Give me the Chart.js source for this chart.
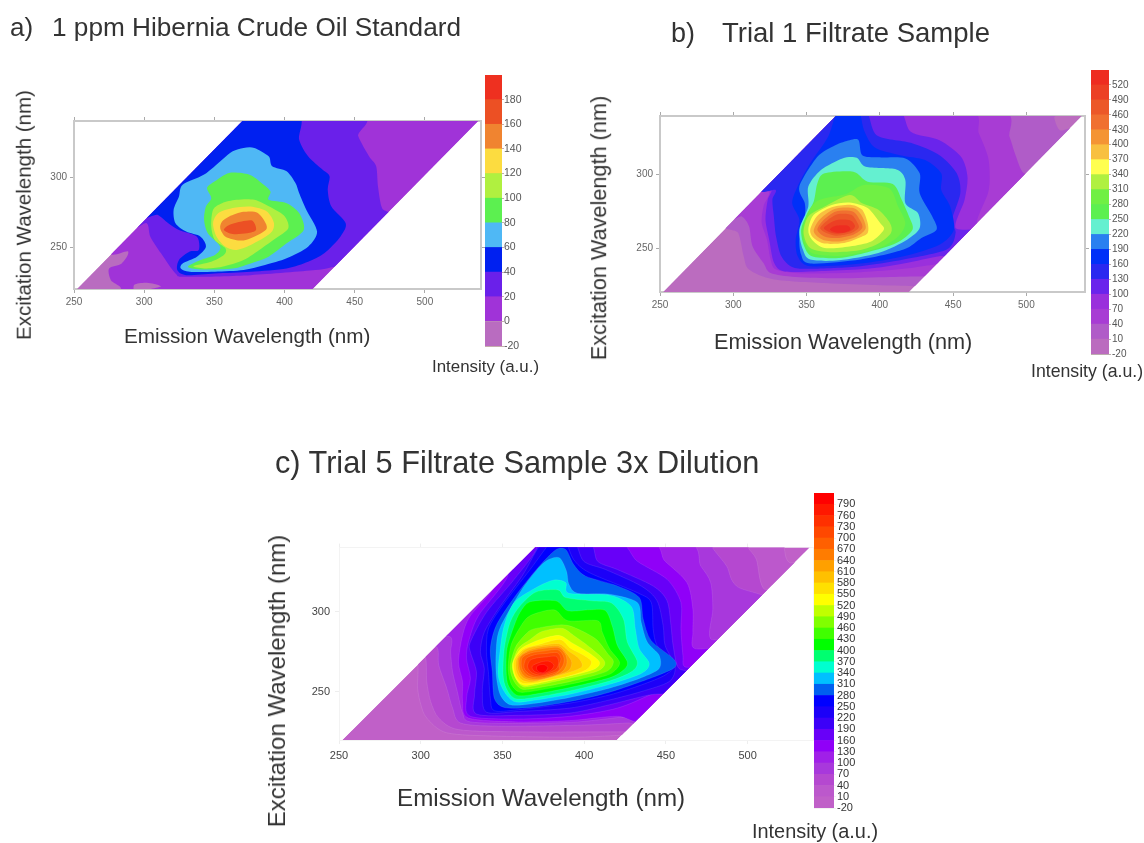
<!DOCTYPE html>
<html><head><meta charset="utf-8">
<script src="https://cdn.jsdelivr.net/npm/chart.js@4"></script>
<style>
html,body{margin:0;padding:0;background:#fff;width:1144px;height:843px;overflow:hidden}
#page{position:relative;width:1144px;height:843px;filter:blur(.5px)}
canvas{position:absolute;display:block}
.t{position:absolute;font-family:"Liberation Sans",Arial,sans-serif;color:#333;white-space:nowrap;line-height:1;transform:translateY(-50%)}
.v{position:absolute;font-family:"Liberation Sans",Arial,sans-serif;color:#333;white-space:nowrap;line-height:1;transform:translate(-50%,-50%) rotate(-90deg)}
</style></head><body><div id="page"></div>
<script>
// ---- axes
const xTicks=[250,300,350,400,450,500];
const yTicks=[250,300];
const emRange=[250,540];
const exRange=[220,340];
const scanArea=[[252,220],[420,220],[538,340],[370,340]];

// ---- panel a: levels and colours
const aLevels=[-20,0,20,40,60,80,100,120,140,160,180,200];
const aColors=['#b96cc0','#a033d8','#6a20ea','#0020f0','#4fb8f5','#5cf050','#b0f040','#fcdc40','#f08430','#ec5024','#ee3020'];
const a0=[[278,252],[288.6,246.7],[284,238.3],[275,234.7],[276.3,226.3],[283,221.5],[284,216],[292,216],[293,223],[302,224.5],[312,222],[314,216],[570,216],[570,350],[350,350]];
const a20=[[449,345],[452.5,329.2],[460.2,314.8],[465.3,307.7],[466.6,293.3],[469.1,278.9],[473,275.4],[490,270],[445,236],[435.9,235.9],[421.9,233.5],[375.9,229.9],[329.9,228.7],[322.3,231.1],[312,245.5],[304.4,257.4],[301.8,267],[290,268],[300,345]];
const a40=[[409,345],[410.4,326.8],[416.8,314.8],[427,305.3],[432.1,300.5],[430.8,290.9],[433.4,278.9],[443.6,267],[439.8,257.4],[428.3,245.5],[416.8,239.5],[401.5,234.7],[375.9,232.3],[350.4,231.1],[329.9,229.9],[323.6,233.5],[324.8,240.7],[332.5,246.7],[338.9,247.9],[337.6,257.4],[324.8,262.2],[317.2,267],[309.5,273],[300,275],[360,345]];
const a60=[[370.8,320.8],[378.5,320.8],[388.7,314.8],[391.2,307.7],[401.5,304.1],[407.8,295.7],[410.4,288.5],[415.5,276.6],[423.2,261],[416.8,250.2],[401.5,241.9],[386.1,237.1],[370.8,233.5],[350.4,232.3],[332.5,232.3],[326.1,234.7],[327.4,238.3],[337.6,243.1],[344,250.2],[340.2,257.4],[329.9,261],[322.3,267],[321,276.6],[324.8,286.1],[327.4,294.5],[342.7,301.7],[355.5,312.4],[363.1,318.4]];
const a80=[[360.6,302.9],[374.6,301.7],[383.6,295.7],[390,289.7],[388.7,283.7],[401.5,281.3],[410.4,274.2],[413.7,262.2],[401.5,252.6],[388.7,243.1],[375.9,238.3],[363.1,234.7],[340.2,234],[331.2,235.9],[340.2,240.7],[350.4,244.3],[354.2,250.2],[345.3,259.8],[342.7,269.4],[344,278.9],[347.8,284.9],[344.8,292.1],[350.4,296.9]];
const a100=[[365.7,283.7],[378.5,283.7],[391.2,277.8],[400.2,271.8],[402.7,263.4],[393.8,256.2],[383.6,249],[370.8,240.7],[355.5,235.9],[342.7,234.7],[335,236.4],[347.8,239.5],[356.8,244.3],[358,249],[350.4,255],[347.8,264.6],[349.1,276.6],[355.5,281.3]];
const a120=[[363.1,277.8],[375.9,278.9],[387.4,275.4],[392.5,267],[389.9,259.8],[375.9,251.4],[365.7,247.9],[358,250.2],[351.6,257.4],[349.1,267],[352.9,274.2]];
const a140=[[360.6,271.8],[370.8,275.1],[381,274.2],[387.4,263.4],[375.9,256.2],[368.2,254.6],[358,257.4],[354.2,263.4],[355.5,268.2]];
const a160=[[360.6,265.8],[369.5,268.2],[377.2,268.7],[379.7,262.2],[373.3,259.8],[363.1,259.3],[356.8,262.2]];
const aContours=[a0,a20,a40,a60,a80,a100,a120,a140,a160];

// ---- panel b: levels and colours
const bLevels=[-20,10,40,70,100,130,160,190,220,250,280,310,340,370,400,430,460,490,520,550];
const bColors=['#bb6cbf','#b05cc8','#a83cd4','#9a30dc','#6a24ec','#2a28f0','#0030f8','#2a80f0','#64f0d0','#5cf050','#70f044','#b0f040','#ffff50','#f8c040','#f49434','#f07030','#ec5828','#ec4024','#ee2c20'];
const b10=[[295,272],[303.4,260.2],[307.1,244.4],[310.8,235.3],[327.9,228.5],[367.2,225.8],[403.9,224.5],[428.4,224],[440,224],[535,326],[522.8,330.3],[519,339],[519,345],[360,345]];
const b40=[[480,345],[488.5,325.8],[492.2,314.5],[498.3,300.9],[510,300],[440,231],[432.1,230.8],[406.4,230.3],[372.1,229.4],[342.6,230.3],[325.5,233],[320.6,239.8],[313.2,251.1],[310.8,264.7],[305.9,271.5],[298,272],[370,345]];
const b70=[[459,345],[467.6,328],[473.8,312.2],[475,298.6],[473.8,287.3],[466.4,267],[480,267],[450,238],[445.6,239.8],[416.2,235.8],[386.8,233.5],[347.5,232.6],[329.2,235.3],[325.5,242.1],[323,255.7],[319.4,267],[320.6,278.3],[324.3,288.5],[310,290],[370,345]];
const b100=[[412,345],[421.1,329.2],[440.7,323.5],[455.4,312.2],[459.8,298.6],[457.8,282.8],[451.7,263.6],[470,262],[450,244],[440.7,244.4],[416.2,239.4],[391.7,235.8],[362.3,234.4],[335.3,234],[327.9,239.8],[324.5,255.7],[322,269.2],[323.5,282.8],[326,289.6],[318,292],[378,345]];
const b130=[[390,345],[397.8,326.9],[421.1,321.7],[440.7,313.3],[452.5,300.9],[454.9,287.3],[449.3,269.2],[451.7,260.2],[445.6,248.9],[416.2,242.1],[386.8,237.6],[352.5,235.8],[340.2,237.1],[332.8,244.4],[329.2,257.9],[327.7,271.5],[326.7,282.8],[329,289.6],[320,292],[372,345]];
const b160=[[385,345],[389.2,330.3],[396.6,318.5],[413.7,313.3],[430.9,310],[441.9,300.9],[441.9,289.6],[448,278.3],[450.5,262.5],[440.7,252.3],[416.2,244.4],[386.8,239.4],[352.5,237.6],[344,244.4],[342.6,255.7],[345.1,269.2],[340.2,280.5],[343.9,291.9],[352.5,307.7],[364.7,325.8],[372,345]];
const b190=[[379.4,323.5],[385.5,323.5],[388,313.3],[399,311.8],[417.4,311.1],[427.2,300.9],[427.2,287.3],[435.8,271.5],[438.7,262.5],[428.4,256.8],[416.2,248.9],[386.8,242.1],[352.5,239.4],[346.3,245.5],[345.1,257.9],[348.8,271.5],[348.8,280.5],[345.1,291.9],[357.4,312.2],[369.6,320.1]];
const b220=[[374.5,311.1],[384.3,311.5],[390.4,305.4],[411.3,303.6],[417.4,296.4],[417.4,280.5],[426,273.8],[427.2,263.6],[418.6,255.7],[399,246.6],[372.1,241.6],[352.5,242.1],[347.5,248.9],[345.1,262.5],[351.2,278.3],[351.2,291.9],[359.8,303.2]];
const b250=[[362.3,300.9],[381.9,302],[391.7,295.2],[408.8,293.7],[415,282.8],[419.9,271.5],[422.3,262.5],[411.3,253.4],[391.7,247.1],[372.1,243.2],[353.7,244.4],[348,252.3],[346.3,262.5],[349.5,271.5],[354.9,281.7],[357.4,294.1]];
const b280=[[358.6,282.8],[377,286.9],[389.2,293],[406.4,290.7],[412.5,278.3],[417.4,267],[412.5,257.9],[399,250],[374.5,244.8],[354.9,246],[348.8,253.4],[347.6,262.5],[351.2,274.9]];
const b310=[[362.3,278.3],[379.4,286.2],[388,280.5],[399,276],[406.9,267],[407.6,260.2],[399,253],[385.9,248.4],[366.3,247.1],[352.5,250],[348,260.2],[351.2,271.5]];
const b340=[[367.2,279.4],[379.4,281],[391.7,277.2],[400.2,267],[402.7,262.5],[394.1,254.5],[379.4,251.1],[362.3,250],[353.7,255.7],[351.2,262.5],[354.9,272.6]];
const b370=[[367.2,277.8],[380.6,279.4],[388,276],[391.7,267],[391.7,260.2],[385.5,256.8],[375.7,253.4],[362.3,253],[354.9,256.8],[352.5,262.5],[357.4,272]];
const b400=[[369.6,276.7],[381.9,277.2],[387.3,272.6],[390.4,263.6],[384.3,257.9],[372.1,254.5],[361,255.7],[354.9,261.3],[359.3,269.7]];
const b430=[[370.1,274.9],[381.4,274.9],[386.3,269.2],[388,263.6],[381.9,259.1],[370.8,256.8],[362.3,257.9],[357.4,262.5],[361.8,269.2]];
const b460=[[371.6,273.1],[380.6,272.6],[384.8,267],[385.5,263.6],[380.6,260.2],[370.8,258.4],[363.5,260.2],[359.3,263.6],[364.2,268.8]];
const b490=[[371.6,269.2],[379.9,268.8],[383.1,264.7],[379.4,261.3],[370.8,259.7],[364.7,261.3],[361.8,263.6],[366,267]];
const b520=[[372.1,265.4],[378.2,265.2],[379.9,262.5],[375.7,260.6],[370.1,260.6],[366,262.5],[368.4,264.7]];
const bContours=[b10,b40,b70,b100,b130,b160,b190,b220,b250,b280,b310,b340,b370,b400,b430,b460,b490,b520];

// ---- panel c: levels and colours
const cLevels=[-20,10,40,70,100,130,160,190,220,250,280,310,340,370,400,430,460,490,520,550,580,610,640,670,700,730,760,790,820];
const cColors=['#c060c8','#bc58cc','#b548d0','#a838dc','#a020e8','#9000f8','#6800f8','#3c00f8','#1c00f8','#0000ff','#0060f0','#00c0ff','#00ffd0','#00ff70','#00ff00','#40ff00','#80ff00','#c0ff00','#ffff00','#ffe000','#ffc000','#ffa000','#ff7c00','#ff6000','#ff4800','#ff3000','#ff1800','#ff0000'];
const c10=[[290,270],[297.9,268.7],[298.1,252.3],[300.1,242],[303.7,233.7],[315.9,224.5],[347.4,222.4],[396,221.8],[425.2,223],[440,222],[545,330],[526,330.5],[522.4,339.7],[522,345],[360,345]];
const c40=[[293,274],[302.5,272.8],[303.7,256.4],[306.1,244],[311,233.7],[323.1,226.5],[359.6,225.1],[425.2,225.1],[440,225],[530,314],[510.3,314],[505.4,332.5],[500.5,339.7],[500,345],[365,345]];
const c70=[[298,280],[309.8,278],[311,266.7],[315.9,252.3],[319.5,239.9],[324.4,230.6],[347.4,228.6],[396,229.2],[426.4,230.6],[445,232],[520,298],[493.2,316],[487.2,328.4],[478.7,339.7],[478,345],[365,345]];
const c100=[[459,345],[471.4,328.4],[477.4,318.1],[478.7,301.6],[477.4,283.1],[495,281],[445,232],[430,234.8],[396,231.3],[359.6,230.4],[330.4,231.3],[325.6,236.8],[322.4,250.2],[319.5,262.5],[318.3,274.9],[318.3,284.2],[305,290],[365,345]];
const c130=[[435,345],[449.5,331.5],[462.9,318.1],[466.5,301.6],[466.5,287.2],[467.7,277],[490,278],[470,268],[440,232],[420.3,234.8],[391.2,232.1],[359.6,231.3],[329.2,233.7],[325.6,244],[325.6,256.4],[323.1,268.7],[325.6,285.2],[330.4,297.5],[347.4,320.2],[340,345]];
const c160=[[418,345],[432.5,331.5],[450.7,320.2],[459.2,305.8],[459.2,289.3],[460.4,272.8],[461.7,265.6],[475,265],[444.6,250.2],[420.3,239.9],[391.2,234.8],[359.6,233.1],[330.4,234.8],[328,246.1],[330.4,258.4],[328,270.8],[329.2,281.1],[335.3,297.5],[352.3,320.2],[362,345]];
const c190=[[401,345],[408.2,331.5],[420.3,326.3],[442.2,316],[450.7,306.8],[453.1,291.4],[454.4,279],[458,264.6],[470,262],[455,250],[439.8,248.1],[415.5,242],[391.2,236.8],[359.6,235.4],[334.1,236.2],[332.9,248.1],[334.1,262.5],[330.4,274.9],[330.4,281.1],[340.2,299.6],[357.2,320.2],[371,340],[360,345]];
const c220=[[393,345],[399.7,331.5],[413.1,326.3],[434.9,316],[444.6,306.8],[448.3,291.4],[449.5,279],[455.6,265.6],[451.9,256.4],[434.9,250.2],[415.5,245],[391.2,239.9],[359.6,237.8],[340.2,237.4],[337.7,250.2],[338.9,264.6],[336.5,274.9],[338.9,287.2],[347.4,301.6],[362,322.2],[376,345]];
const c250=[[388,345],[393.6,332.5],[403.3,324.3],[432.5,311.9],[441,305.8],[442.2,289.3],[444.6,279],[454.4,266.7],[449.5,260.5],[434.9,254.3],[415.5,248.1],[391.2,243],[359.6,238.9],[345,238.3],[342.6,246.1],[341.4,262.5],[340.2,274.9],[341.4,289.3],[349.9,303.7],[366.9,326.3],[381,345]];
const c280=[[382.7,338.7],[388.8,338.7],[393.6,329.4],[400.9,322.2],[420.3,316.1],[433.7,308.8],[436.1,295.5],[440.9,282.1],[454.4,270.8],[455.6,265.6],[444.6,260.1],[415.5,249.8],[391.2,244],[366.9,240.3],[351.1,240.3],[345,246.1],[343.8,262.5],[342.6,277],[346.2,291.4],[357.2,308.8],[371.7,327.4]];
const c310=[[379,332.9],[385.1,333.5],[389.2,325.3],[390.7,317.1],[396,311.5],[415.5,310.9],[432.5,305.8],[434.9,293.4],[438.6,281.1],[445.9,272.8],[445.9,264.6],[434.9,258.8],[415.5,252.3],[391.2,246.5],[366.9,242.4],[354.7,242],[348.7,248.1],[346.2,260.5],[346.2,277],[348.7,290.3],[362,314],[373,328.4]];
const c340=[[381.5,319.8],[388.8,318.1],[390.7,311.5],[415.5,310.3],[428.8,303.3],[431.3,289.3],[433.7,277],[439.8,267.7],[434.9,261.5],[415.5,254.7],[391.2,248.5],[366.9,244.4],[357.2,244],[351.1,250.2],[347.4,260.5],[348.7,277],[351.1,291.4],[357.2,305.8],[370.5,315]];
const c370=[[370.5,312.3],[383.9,313.6],[388.8,308.8],[404.5,306.8],[416.7,305.4],[424,295.5],[426.4,281.1],[432.5,268.7],[428.8,262.5],[415.5,256.8],[391.2,250.6],[366.9,246.1],[357.2,246.1],[352.3,252.3],[350.4,260.5],[351.1,277],[354.7,293.4],[360.8,303.7]];
const c400=[[366.9,306.2],[382.7,306.8],[390,300.6],[403.3,301.2],[413.1,300.6],[417.4,290.3],[420.3,279],[426.4,268.7],[424,263.6],[415.5,258.8],[391.2,252.7],[366.9,248.1],[358.4,248.1],[353.5,254.3],[352.3,262.5],[352.8,277],[357.2,291.4],[360.8,299.6]];
const c430=[[366.9,297.5],[381.5,301.2],[390,294.4],[408.2,294.4],[411.1,287.2],[415.5,277],[421.6,268.7],[419.1,263.6],[413.1,260.1],[391.2,254.7],[366.9,250.2],[359.6,250.2],[355.2,255.3],[353.5,264.6],[355.2,279],[360.8,290.3]];
const c460=[[369.3,289.3],[385.1,291.8],[393.6,290.3],[407,283.1],[414.3,273.9],[417.9,268.7],[413.1,262.5],[391.2,256.4],[366.9,251.8],[360.8,252.3],[356.7,257.4],[354.7,265.6],[358,278],[364.5,286.2]];
const c490=[[374.2,287.7],[386.3,289.7],[393.6,285.2],[404.5,277],[412.6,268.7],[408.2,263],[388.8,258],[366.9,253.3],[361.5,253.8],[357.6,259.5],[356,266.7],[359.6,277],[366.9,282.7]];
const c520=[[375.4,283.5],[385.1,285.2],[392.4,280.7],[402.1,274.9],[409.4,268.7],[405.8,264],[388.8,259.3],[366.9,254.3],[361.5,254.7],[357.6,259.5],[356.2,267.7],[360.8,276.5],[368.1,280.7]];
const c550=[[371.7,279.4],[385.1,282.7],[391.9,277],[399.7,272.8],[404.5,268.7],[400.9,263.6],[388.8,259.5],[366.9,255.3],[360.8,256.4],[357.6,261.5],[357.2,269.7],[362.5,276.5]];
const c580=[[371.7,278.6],[384.4,280],[390.7,275.3],[396.8,270.8],[398.5,265.6],[388.8,261.5],[369.3,256.4],[362,257.4],[358.6,262.5],[358.6,270.4],[364,276.5]];
const c610=[[373,277.8],[384.4,278.6],[389.2,273.9],[392.4,268.3],[389.2,262.5],[371.7,257.2],[363.2,258.4],[359.6,263.6],[359.6,270.8],[365,275.5]];
const c640=[[374.2,277],[384.4,277.6],[388.8,272.8],[389.2,266.7],[385.1,261.5],[373,258],[364.5,259],[360.6,264.2],[360.6,271.2],[365.4,274.9]];
const c670=[[375.4,275.5],[383.9,276.3],[387.5,271.8],[387.1,266.7],[382.7,261.5],[373,258.8],[365.7,260],[361.9,264.6],[362,271.2],[367.4,274.3]];
const c700=[[376.1,273.9],[383.4,274.5],[385.8,270.8],[384.6,266.7],[383.9,263],[373,259.7],[366.9,260.9],[363.2,265],[364.5,270.8],[369.8,273.2]];
const c730=[[376.6,271.8],[382.7,272.2],[384.4,268.7],[382.7,264.2],[374.2,260.5],[368.1,261.9],[365.4,265.6],[366.9,269.7],[371,271.2]];
const c760=[[373.7,268.7],[378.5,269.1],[381.5,266.7],[379.5,263.4],[374.2,261.3],[369.3,263],[368.3,266.2]];
const c790=[[371.7,266.5],[375.4,267.1],[377.8,265],[375.4,262.1],[372.2,262.5],[370.8,264.6]];
const cContours=[c10,c40,c70,c100,c130,c160,c190,c220,c250,c280,c310,c340,c370,c400,c430,c460,c490,c520,c550,c580,c610,c640,c670,c700,c730,c760,c790];

// ---- library plumbing
const pts=a=>a.map(p=>({x:p[0],y:p[1]}));
const contourFill={id:'contourFill',beforeDatasetsDraw(chart){
  const ctx=chart.ctx,opt=chart.options.plugins.contourFill,k=.14;
  const base=chart.getDatasetMeta(0).data;
  ctx.save();ctx.beginPath();base.forEach((p,i)=>i?ctx.lineTo(p.x,p.y):ctx.moveTo(p.x,p.y));ctx.closePath();ctx.clip();
  chart.data.datasets.forEach((ds,di)=>{
    const d=chart.getDatasetMeta(di).data,n=d.length;
    ctx.beginPath();ctx.moveTo(d[0].x,d[0].y);
    for(let i=0;i<n;i++){
      const p0=d[(i-1+n)%n],p1=d[i],p2=d[(i+1)%n],p3=d[(i+2)%n];
      if(di===0)ctx.lineTo(p2.x,p2.y);
      else ctx.bezierCurveTo(p1.x+(p2.x-p0.x)*k,p1.y+(p2.y-p0.y)*k,p2.x-(p3.x-p1.x)*k,p2.y-(p3.y-p1.y)*k,p2.x,p2.y);
    }
    ctx.closePath();ctx.fillStyle=ds.backgroundColor;ctx.fill();
    if(opt.outline&&di){ctx.strokeStyle=opt.outline;ctx.lineWidth=.7;ctx.stroke();}
  });
  ctx.restore();
}};
const fixedSize=(prop,v)=>s=>{s[prop]=v;};
const useTicks=list=>s=>{s.ticks=list.map(v=>({value:v}));};

function addCanvas(l,t,w,h){const c=document.createElement('canvas');c.width=w;c.height=h;c.style.left=l+'px';c.style.top=t+'px';c.style.width=w+'px';c.style.height=h+'px';document.getElementById('page').appendChild(c);return c;}

function plot(box,levels,colors,contours,st){
  const padL=60,padT=10,padR=12,padB=30;
  const c=addCanvas(box.l-padL,box.t-padT,box.r-box.l+padL+padR,box.b-box.t+padT+padB);
  const border={color:st.box,width:st.boxW};
  const grid={drawOnChartArea:false,color:st.tick,tickLength:st.tickLen,tickWidth:1};
  const font={family:st.font,size:st.size};
  const common={type:'linear',border};
  new Chart(c,{type:'scatter',
    data:{datasets:[{label:'-20',data:pts(scanArea),backgroundColor:colors[0]},
      ...contours.map((k,i)=>({label:String(levels[i+1]),data:pts(k),backgroundColor:colors[i+1]}))]},
    options:{responsive:false,animation:false,layout:{padding:0},
      elements:{point:{radius:0,hoverRadius:0}},
      plugins:{legend:{display:false},tooltip:{enabled:false},title:{display:false},contourFill:{outline:st.outline}},
      scales:{
        x:{...common,position:'bottom',min:emRange[0],max:emRange[1],grid:{...grid,tickLength:st.tickLen},
          ticks:{color:st.color,font,padding:st.pad,maxRotation:0},afterBuildTicks:useTicks(xTicks),afterFit:fixedSize('height',padB)},
        x2:{...common,position:'top',min:emRange[0],max:emRange[1],grid,ticks:{display:false},afterBuildTicks:useTicks(xTicks),afterFit:fixedSize('height',padT)},
        y:{...common,position:'left',min:exRange[0],max:exRange[1],grid,
          ticks:{color:st.color,font,padding:st.pad},afterBuildTicks:useTicks(yTicks),afterFit:fixedSize('width',padL)},
        y2:{...common,position:'right',min:exRange[0],max:exRange[1],grid,ticks:{display:false},afterBuildTicks:useTicks(yTicks),afterFit:fixedSize('width',padR)}
      }},
    plugins:[contourFill]});
}

function colorbar(box,levels,colors,st){
  const pad=9,lab=50;
  const c=addCanvas(box.l,box.t-pad,box.r-box.l+lab,box.b-box.t+2*pad);
  new Chart(c,{type:'bar',
    data:{labels:['Intensity'],datasets:colors.map((col,i)=>({label:String(levels[i]),data:[[levels[i],levels[i+1]]],backgroundColor:col,borderWidth:0,barPercentage:1,categoryPercentage:1}))},
    options:{responsive:false,animation:false,layout:{padding:{top:pad,bottom:pad}},
      plugins:{legend:{display:false},tooltip:{enabled:false}},
      scales:{
        x:{display:false,stacked:true},
        y:{stacked:false,type:'linear',position:'right',min:levels[0],max:levels[levels.length-1],border:{display:false},
          grid:{color:st.sep,tickColor:st.sep,tickLength:2,lineWidth:1,drawOnChartArea:true},
          ticks:{color:st.color,font:{family:st.font,size:st.size},padding:st.pad,autoSkip:false},
          afterBuildTicks:useTicks(levels.slice(0,-1)),afterFit:fixedSize('width',lab)}
      }}});
}

function label(cls,txt,x,y,size,color){const d=document.createElement('div');d.className=cls;d.textContent=txt;d.style.left=x+'px';d.style.top=y+'px';d.style.fontSize=size+'px';if(color)d.style.color=color;document.getElementById('page').appendChild(d);}

const soft={font:'"Liberation Sans",Arial,sans-serif',size:10,color:'#666',box:'#c9c9c9',boxW:2,tick:'#aaa',tickLen:4,pad:3,outline:null};
const hard={font:'"Liberation Sans",Arial,sans-serif',size:11,color:'#444',box:'#f3f3f3',boxW:1,tick:'#eee',tickLen:4,pad:5,outline:'rgba(255,255,255,.14)'};

plot({l:74,r:481,t:121,b:289},aLevels,aColors,aContours,soft);
colorbar({l:485,r:502,t:75,b:346},aLevels,aColors,{font:soft.font,size:10.5,color:'#555',sep:'rgba(90,20,20,.35)',pad:0});
plot({l:660,r:1085,t:116,b:292},bLevels,bColors,bContours,soft);
colorbar({l:1091,r:1109,t:70,b:354},bLevels,bColors,{font:soft.font,size:10,color:'#555',sep:'rgba(60,20,20,.35)',pad:1});
plot({l:339,r:813,t:546,b:740},cLevels,cColors,cContours,hard);
colorbar({l:814,r:834,t:493,b:808},cLevels,cColors,{font:hard.font,size:11,color:'#333',sep:'rgba(0,0,0,.05)',pad:1});

label('t','a)',10,27,26);
label('t','1 ppm Hibernia Crude Oil Standard',52,27,26.2);
label('t','b)',671,33,27);
label('t','Trial 1 Filtrate Sample',722,33,27.5);
label('t','c) Trial 5 Filtrate Sample 3x Dilution',275,463,30.7);
label('t','Emission Wavelength (nm)',124,336,20.7);
label('t','Emission Wavelength (nm)',714,342,21.7);
label('t','Emission Wavelength (nm)',397,798,24.2);
label('v','Excitation Wavelength (nm)',24,215,20.5);
label('v','Excitation Wavelength (nm)',599,228,21.7);
label('v','Excitation Wavelength (nm)',277,681,24);
label('t','Intensity (a.u.)',432,367,16.9);
label('t','Intensity (a.u.)',1031,372,17.7);
label('t','Intensity (a.u.)',752,832,19.9);
</script></body></html>
